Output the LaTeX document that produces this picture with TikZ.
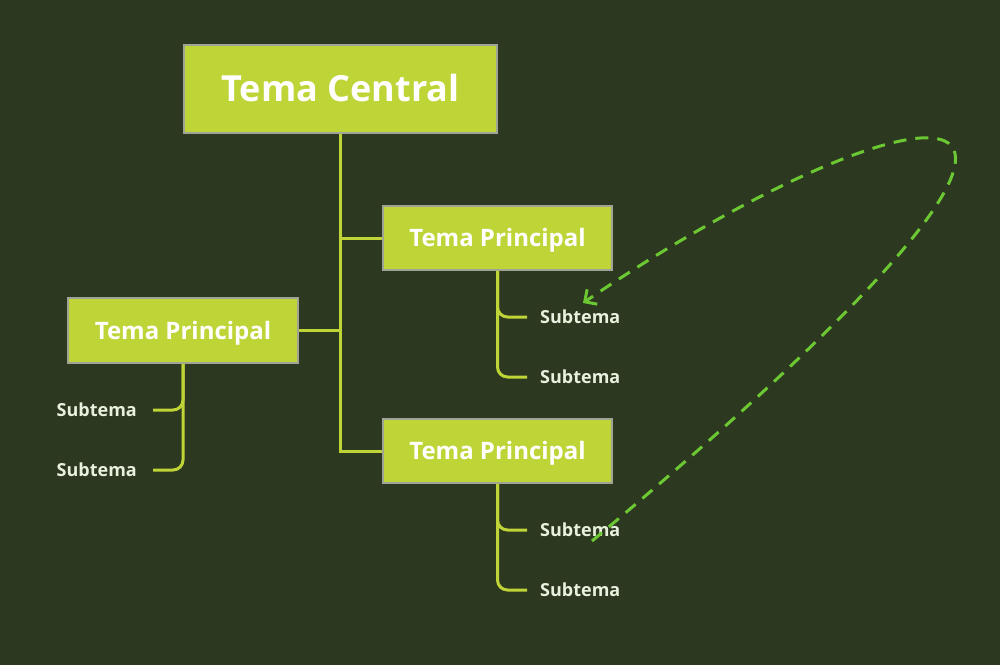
\documentclass[tikz,border=0pt]{standalone}
\usepackage{fontspec}
\setmainfont{Open Sans}
\usetikzlibrary{arrows.meta}
\definecolor{bg}{RGB}{45,56,32}
\definecolor{boxfill}{RGB}{191,212,55}
\definecolor{boxline}{RGB}{160,164,150}
\definecolor{conn}{RGB}{191,212,55}
\definecolor{dashc}{RGB}{108,200,50}
\definecolor{subtxt}{RGB}{232,240,222}
\tikzset{
  topicbox/.style={draw=boxline, line width=1.5pt, fill=boxfill, text=white, inner sep=0pt, text depth=0pt},
  centralbox/.style={topicbox, minimum width=313pt, minimum height=88pt, font=\fontsize{36}{40}\selectfont\bfseries, text height=25.7pt},
  mainbox/.style={topicbox, minimum width=229pt, minimum height=64pt, font=\fontsize{24}{28}\selectfont\bfseries, text height=17.1pt},
  subnode/.style={text=subtxt, font=\fontsize{18}{21}\selectfont\bfseries, inner sep=0pt, text height=12.9pt, text depth=0pt},
  link/.style={draw=conn, line width=3pt},
  sublink/.style={link, rounded corners=10pt},
  relation/.style={draw=dashc, line width=3pt, dash pattern=on 13pt off 9pt, -{Straight Barb[length=9pt,width=18pt,line width=3pt]}}
}
\begin{document}
\begin{tikzpicture}[x=1pt,y=-1pt]
\fill[bg] (0,0) rectangle (1000,665);
\useasboundingbox (0,0) rectangle (1000,665);
% boxes
\node[centralbox] (C) at (340.5,89) {Tema Central};
\node[mainbox] (P1) at (497.5,238) {Tema Principal};
\node[mainbox] (P3) at (497.5,451) {Tema Principal};
\node[mainbox, minimum width=230pt, minimum height=65pt] (P2) at (183,330.5) {Tema Principal};
% subtopics
\node[subnode, anchor=west] (S11) at (540,317) {Subtema};
\node[subnode, anchor=west] (S12) at (540,377) {Subtema};
\node[subnode, anchor=west] (S31) at (540,530) {Subtema};
\node[subnode, anchor=west] (S32) at (540,590) {Subtema};
\node[subnode, anchor=east] (S21) at (137,410) {Subtema};
\node[subnode, anchor=east] (S22) at (137,470) {Subtema};
% trunk
\draw[link] (C.south) |- (P1.west);
\draw[link] (C.south) |- (P3.west);
\draw[link] (C.south) |- (P2.east);
% subtopic links
\draw[sublink, shorten >=13pt] (P1.south) |- (S11.west);
\draw[sublink, shorten >=13pt] (P1.south) |- (S12.west);
\draw[sublink, shorten >=13pt] (P3.south) |- (S31.west);
\draw[sublink, shorten >=13pt] (P3.south) |- (S32.west);
\draw[sublink, shorten >=16pt] (P2.south) |- (S21.east);
\draw[sublink, shorten >=16pt] (P2.south) |- (S22.east);
% dashed relation
\coordinate (RS) at (592,541);
\coordinate (RE) at (583,303);
\draw[relation] (RS) .. controls (1227,10) and (901,86) .. (RE);
\end{tikzpicture}
\end{document}
